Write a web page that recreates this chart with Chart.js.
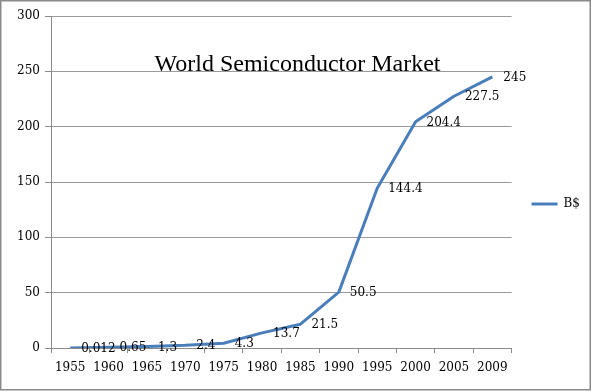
<!DOCTYPE html>
<html>
<head>
<meta charset="utf-8">
<script src="https://cdn.jsdelivr.net/npm/chart.js@4"></script>
<style>
  body { margin: 0; background: #fff; }
  canvas { display: block; }
</style>
</head>
<body>
<canvas id="chart" width="593" height="392"></canvas>
<script>
var years = ["1955", "1960", "1965", "1970", "1975", "1980", "1985", "1990", "1995", "2000", "2005", "2009"]
var marketBillions = [0.012, 0.65, 1.3, 2.4, 4.3, 13.7, 21.5, 50.5, 144.4, 204.4, 227.5, 245]
var seriesName = "B$"
var chartTitle = "World Semiconductor Market"

var serif = "'DejaVu Serif', serif"
var gray = "#8a8a8a"
var blue = "#4A7EBB"

// white page, grey frame and the title sitting in the plot area
var framePlugin = {
  id: "frame",
  beforeDraw(chart) {
    var ctx = chart.ctx
    ctx.save()
    ctx.fillStyle = "#fff"
    ctx.fillRect(0, 0, chart.width, chart.height)
    ctx.restore()
  },
  afterDraw(chart) {
    var ctx = chart.ctx
    ctx.save()
    ctx.strokeStyle = gray
    ctx.lineWidth = 1.5
    ctx.strokeRect(0.75, 0.75, 589.5, 389)
    ctx.fillStyle = "#000"
    ctx.font = "24px 'Liberation Serif', serif"
    ctx.textAlign = "center"
    ctx.textBaseline = "alphabetic"
    ctx.fillText(chartTitle, chart.width / 2 + 1, 71)
    ctx.restore()
  }
}

// value labels to the right of every point
var valueLabels = {
  id: "valueLabels",
  afterDatasetsDraw(chart) {
    var ctx = chart.ctx
    var meta = chart.getDatasetMeta(0)
    ctx.save()
    ctx.font = "12px " + serif
    ctx.fillStyle = "#000"
    ctx.textAlign = "left"
    ctx.textBaseline = "middle"
    meta.data.forEach(function (pt, i) {
      ctx.fillText(String(marketBillions[i]), pt.x + 11, pt.y + 1)
    })
    ctx.restore()
  }
}

new Chart("chart", {
  type: "line",
  data: {
    labels: years,
    datasets: [{
      label: seriesName,
      data: marketBillions,
      borderColor: blue,
      backgroundColor: blue,
      borderWidth: 3,
      pointRadius: 0,
      tension: 0,
      borderJoinStyle: "round"
    }]
  },
  options: {
    responsive: false,
    animation: false,
    layout: { padding: { left: 0, top: 16, right: 3, bottom: 0 } },
    plugins: {
      title: { display: false },
      tooltip: { enabled: false },
      legend: {
        position: "right",
        labels: {
          boxWidth: 26,
          boxHeight: 3,
          padding: 20,
          color: "#000",
          font: { family: serif, size: 12 },
          generateLabels: function (chart) {
            var items = Chart.defaults.plugins.legend.labels.generateLabels(chart)
            items.forEach(function (it) { it.lineWidth = 0 })
            return items
          }
        }
      }
    },
    scales: {
      x: {
        offset: true,
        grid: { offset: true, drawOnChartArea: false, drawTicks: true, tickLength: 5, tickColor: gray },
        border: { color: gray, width: 1 },
        ticks: { color: "#000", font: { family: serif, size: 12 }, padding: 8, maxRotation: 0, autoSkip: false },
        afterFit: function (s) { s.height = 44 }
      },
      y: {
        min: 0,
        max: 300,
        grid: { color: "#9a9a9a", tickLength: 6, tickColor: gray },
        border: { color: gray, width: 1 },
        ticks: { stepSize: 50, color: "#000", font: { family: serif, size: 12 }, padding: 5 },
        afterFit: function (s) { s.width = 51 }
      }
    }
  },
  plugins: [framePlugin, valueLabels]
})
</script>
</body>
</html>
